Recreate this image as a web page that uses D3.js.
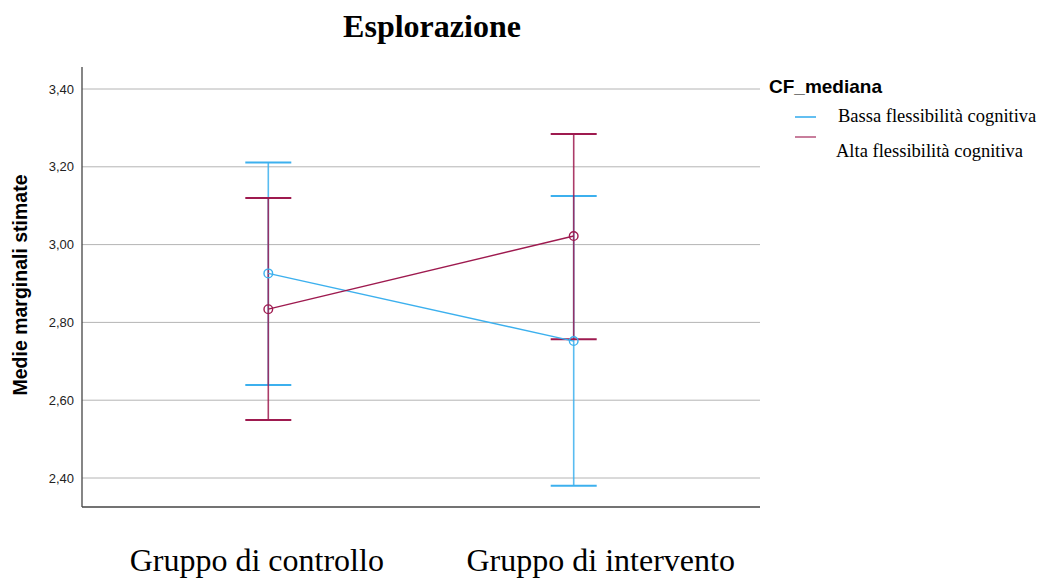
<!DOCTYPE html>
<html><head><meta charset="utf-8">
<script src="https://cdn.jsdelivr.net/npm/d3@7"></script>
<style>body{margin:0;background:#fff}svg{display:block}</style>
</head><body>
<svg id="c" width="1044" height="579"></svg>
<script>
const categories = ["Gruppo di controllo", "Gruppo di intervento"];
const seriesNames = ["Bassa flessibilità cognitiva", "Alta flessibilità cognitiva"];
const bassaMean = [2.926, 2.752];
const bassaLow = [2.639, 2.380];
const bassaHigh = [3.211, 3.125];
const altaMean = [2.834, 3.022];
const altaLow = [2.549, 2.757];
const altaHigh = [3.120, 3.284];
const yTicks = [2.4, 2.6, 2.8, 3.0, 3.2, 3.4];
const colors = ["#3cb0ee", "#9e1a4f"];

const series = [
  {name: seriesNames[0], mean: bassaMean, low: bassaLow, high: bassaHigh, color: colors[0]},
  {name: seriesNames[1], mean: altaMean, low: altaLow, high: altaHigh, color: colors[1]}
];

const svg = d3.select("#c");
const L = 82, R = 760, T = 67, B = 507;
const y = d3.scaleLinear().domain([2.4, 3.4]).range([478, 89]);
const x = d3.scalePoint().domain(categories).range([L, R]).padding(0.61);

// gridlines
svg.append("g").selectAll("line").data(yTicks).join("line")
  .attr("x1", L).attr("x2", R).attr("y1", d => y(d)).attr("y2", d => y(d))
  .attr("stroke", "#b4b4b4").attr("stroke-width", 1);

// y axis
const yAxis = d3.axisLeft(y).tickValues(yTicks).tickSize(0).tickPadding(8)
  .tickFormat(d => d3.format(".2f")(d).replace(".", ","));
const ga = svg.append("g").attr("transform", `translate(${L},0)`).call(yAxis);
ga.select(".domain").remove();
ga.selectAll("text").attr("font-family", "Arial, 'Liberation Sans', sans-serif").attr("font-size", 13).attr("fill", "#222");
svg.append("line").attr("x1", L).attr("x2", L).attr("y1", T).attr("y2", B).attr("stroke", "#444").attr("stroke-width", 1.3);
svg.append("line").attr("x1", L).attr("x2", R).attr("y1", B).attr("y2", B).attr("stroke", "#444").attr("stroke-width", 1.3);

// error bars
const cap = 23;
series.forEach(s => {
  const g = svg.append("g");
  categories.forEach((c, i) => {
    const cx = x(c);
    g.append("line").attr("x1", cx).attr("x2", cx).attr("y1", y(s.low[i])).attr("y2", y(s.high[i]))
      .attr("stroke", s.color).attr("stroke-width", 1.6).attr("stroke-opacity", 0.85);
    [s.low[i], s.high[i]].forEach(v => {
      g.append("line").attr("x1", cx - cap).attr("x2", cx + cap).attr("y1", y(v)).attr("y2", y(v))
        .attr("stroke", s.color).attr("stroke-width", 2);
    });
  });
});
// mean lines and circles
series.forEach(s => {
  const line = d3.line().x((d, i) => x(categories[i])).y(d => y(d));
  svg.append("path").attr("d", line(s.mean)).attr("fill", "none").attr("stroke", s.color).attr("stroke-width", 1.4);
  svg.append("g").selectAll("circle").data(s.mean).join("circle")
    .attr("cx", (d, i) => x(categories[i])).attr("cy", d => y(d)).attr("r", 4.3)
    .attr("fill", "none").attr("stroke", s.color).attr("stroke-width", 1.4);
});

// title
svg.append("text").attr("x", 432).attr("y", 37).attr("text-anchor", "middle")
  .attr("font-family", "'Liberation Serif', 'Times New Roman', serif").attr("font-weight", "bold").attr("font-size", 32)
  .text("Esplorazione");

// y title
svg.append("text").attr("transform", "translate(27,285) rotate(-90)").attr("text-anchor", "middle")
  .attr("font-family", "Arial, 'Liberation Sans', sans-serif").attr("font-weight", "bold").attr("font-size", 19.5)
  .text("Medie marginali stimate");

// x labels
const labelOffsets = [-11.5, 27];
svg.append("g").selectAll("text").data(categories).join("text")
  .attr("x", (d, i) => x(d) + labelOffsets[i]).attr("y", 571).attr("text-anchor", "middle")
  .attr("font-family", "'Liberation Serif', 'Times New Roman', serif").attr("font-size", 32)
  .text(d => d);

// legend
svg.append("text").attr("x", 769).attr("y", 93)
  .attr("font-family", "Arial, 'Liberation Sans', sans-serif").attr("font-weight", "bold").attr("font-size", 19)
  .text("CF_mediana");
const legY = [117, 137];
const legTextPos = [[838, 122], [836, 157]];
series.forEach((s, i) => {
  svg.append("line").attr("x1", 795).attr("x2", 816).attr("y1", legY[i]).attr("y2", legY[i])
    .attr("stroke", s.color).attr("stroke-width", 1.6).attr("stroke-opacity", i ? 0.7 : 1);
  svg.append("text").attr("x", legTextPos[i][0]).attr("y", legTextPos[i][1])
    .attr("font-family", "'Liberation Serif', 'Times New Roman', serif").attr("font-size", 18.5)
    .text(s.name);
});
</script>
</body></html>
